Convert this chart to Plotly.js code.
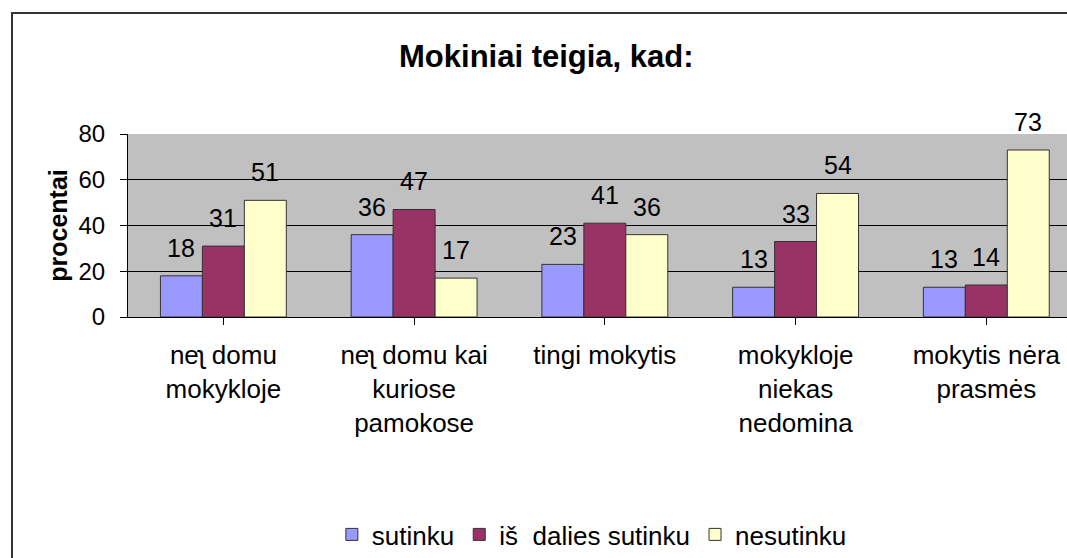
<!DOCTYPE html>
<html>
<head>
<meta charset="utf-8">
<script src="https://cdn.plot.ly/plotly-3.0.1.min.js"></script>
<style>
html,body{margin:0;padding:0;background:#fff;overflow:hidden;}
#frame{position:absolute;left:11px;top:12px;width:1080px;height:560px;border-left:2px solid #333;border-top:2px solid #333;}
#chart{position:absolute;left:0;top:0;width:1067px;height:558px;}
</style>
</head>
<body>
<div id="frame"></div>
<div id="chart"></div>
<script>
const categories = ["neʅ domu<br>mokykloje", "neʅ domu kai<br>kuriose<br>pamokose", "tingi mokytis", "mokykloje<br>niekas<br>nedomina", "mokytis nėra<br>prasmės"];
const sutinku = [18, 36, 23, 13, 13];
const isDaliesSutinku = [31, 47, 41, 33, 14];
const nesutinku = [51, 17, 36, 54, 73];
const seriesNames = ["sutinku", "iš  dalies sutinku", "nesutinku"];
const colors = ["#9999FF", "#993366", "#FFFFCC"];
const FONT = "Liberation Sans, Arial, sans-serif";

const W = 1067, H = 558;
const margin = {l: 128, r: 0, t: 134, b: 240};
const xRange = [-0.5, 4.423];
const bargap = 0.34;

const idx = categories.map((c, i) => i);
const allSeries = [sutinku, isDaliesSutinku, nesutinku];
const traces = allSeries.map((vals, k) => ({
  type: "bar",
  x: idx,
  y: vals,
  name: seriesNames[k],
  marker: {color: colors[k], line: {color: "#333", width: 1}},
  hoverinfo: "none"
}));

// data labels: placed over each bar via the axes, shifted by the group slot width
const pxPerCat = (W - margin.l - margin.r) / (xRange[1] - xRange[0]);
const slotPx = pxPerCat * (1 - bargap) / allSeries.length;
const annotations = [];
allSeries.forEach((vals, k) => {
  vals.forEach((v, i) => {
    annotations.push({
      xref: "x", yref: "y", x: idx[i], y: v,
      xshift: (k - (allSeries.length - 1) / 2) * slotPx,
      yshift: 12, yanchor: "bottom", xanchor: "center",
      text: String(v), showarrow: false,
      font: {family: FONT, size: 25, color: "#000"}
    });
  });
});

const layout = {
  width: W, height: H,
  margin: margin,
  paper_bgcolor: "rgba(0,0,0,0)",
  plot_bgcolor: "#C0C0C0",
  barmode: "group",
  bargap: bargap,
  bargroupgap: 0,
  showlegend: true,
  font: {family: FONT, color: "#000"},
  annotations: annotations,
  title: {text: "<b>Mokiniai teigia, kad:</b>", font: {family: FONT, size: 31, color: "#000"}, x: 0.512, xref: "container", y: 0.9, yref: "container", yanchor: "middle"},
  xaxis: {
    tickmode: "array", tickvals: idx, ticktext: categories,
    range: xRange,
    tickson: "boundaries", ticks: "outside", ticklen: 7, tickcolor: "#000",
    ticklabelstandoff: 8,
    showline: true, linecolor: "#000", linewidth: 1,
    tickfont: {family: FONT, size: 26, color: "#000"},
    showgrid: false, zeroline: false, fixedrange: true
  },
  yaxis: {
    range: [0, 80], tickvals: [0, 20, 40, 60, 80],
    ticks: "outside", ticklen: 7, tickcolor: "#000",
    ticklabelstandoff: 10,
    showline: true, linecolor: "#000", linewidth: 1,
    gridcolor: "#000", gridwidth: 1, zeroline: false,
    tickfont: {family: FONT, size: 24, color: "#000"},
    title: {text: "<b>procentai</b>", font: {family: FONT, size: 25, color: "#000"}, standoff: 3},
    fixedrange: true
  },
  legend: {
    orientation: "h", x: 0.494, xanchor: "center", y: -1.19, yanchor: "middle",
    font: {family: FONT, size: 26, color: "#000"},
    itemwidth: 30, tracegroupgap: 0, bgcolor: "rgba(0,0,0,0)"
  }
};

Plotly.newPlot("chart", traces, layout, {displayModeBar: false, staticPlot: true});
</script>
</body>
</html>
